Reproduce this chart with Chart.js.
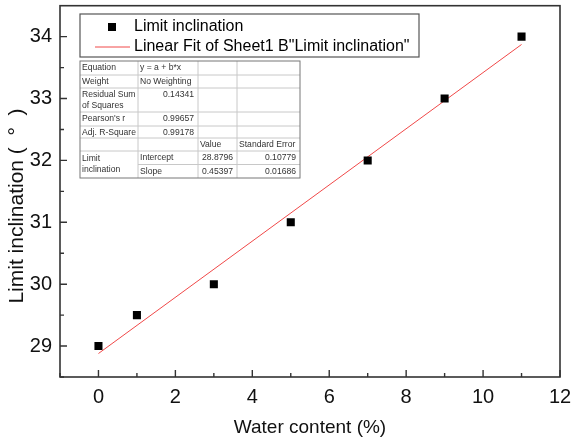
<!DOCTYPE html>
<html>
<head>
<meta charset="utf-8">
<script src="https://cdn.jsdelivr.net/npm/chart.js@4"></script>
<style>
  html, body { margin: 0; padding: 0; background: #fff; }
  #wrap { width: 576px; height: 446px; }
</style>
</head>
<body>
<div id="wrap"><canvas id="chart" width="576" height="446"></canvas></div>
<script>
// data
const waterContent = [0, 1, 3, 5, 7, 9, 11];
const limitInclination = [29, 29.5, 30, 31, 32, 33, 34];
const fitIntercept = 28.8796;
const fitSlope = 0.45397;
const fitRange = [0, 11];
const xTicks = [0, 2, 4, 6, 8, 10, 12];
const yTicks = [29, 30, 31, 32, 33, 34];
const xMinor = [-1, 1, 3, 5, 7, 9, 11];
const yMinor = [28.5, 29.5, 30.5, 31.5, 32.5, 33.5];

const yTitle = 'Limit inclination (  °  )';
const legendLabels = ['Limit inclination', 'Linear Fit of Sheet1 B"Limit inclination"'];
const tableRows = [
    ['Equation', 'y = a + b*x', '', ''],
    ['Weight', 'No Weighting', '', ''],
    ['Residual Sum\nof Squares', '0.14341', '', ''],
    ["Pearson's r", '0.99657', '', ''],
    ['Adj. R-Square', '0.99178', '', ''],
    ['', '', 'Value', 'Standard Error'],
    ['Limit\ninclination', 'Intercept', '28.8796', '0.10779'],
    ['', 'Slope', '0.45397', '0.01686']
];

const FONT = '"Liberation Sans", Arial, sans-serif';
const AXIS = '#333';
const FIT_RED = '#f04848';

const fitPoints = fitRange.map(x => ({ x: x, y: fitIntercept + fitSlope * x }));

// box frame, inward ticks, y title, legend box and the fit table
const framePlugin = {
    id: 'frame',
    afterDraw(chart) {
        const ctx = chart.ctx;
        const { left, right, top, bottom } = chart.chartArea;
        const xs = chart.scales.x, ys = chart.scales.y;
        ctx.save();
        ctx.strokeStyle = AXIS;
        ctx.lineWidth = 1.6;
        ctx.strokeRect(left, top, right - left, bottom - top);

        ctx.lineWidth = 1.4;
        ctx.beginPath();
        xTicks.forEach(v => {
            const px = xs.getPixelForValue(v);
            ctx.moveTo(px, bottom); ctx.lineTo(px, bottom - 7);
        });
        xMinor.forEach(v => {
            const px = xs.getPixelForValue(v);
            ctx.moveTo(px, bottom); ctx.lineTo(px, bottom - 4);
        });
        yTicks.forEach(v => {
            const py = ys.getPixelForValue(v);
            ctx.moveTo(left, py); ctx.lineTo(left + 7, py);
        });
        yMinor.forEach(v => {
            const py = ys.getPixelForValue(v);
            ctx.moveTo(left, py); ctx.lineTo(left + 4, py);
        });
        ctx.stroke();

        // y axis title, sits a bit below the centre in the original
        ctx.save();
        ctx.translate(17, 206);
        ctx.rotate(-Math.PI / 2);
        ctx.font = '21px ' + FONT;
        ctx.fillStyle = '#111';
        ctx.textAlign = 'center';
        ctx.textBaseline = 'middle';
        ctx.fillText(yTitle, 0, 0);
        ctx.restore();

        // legend
        ctx.lineWidth = 1.2;
        ctx.strokeStyle = '#555';
        ctx.fillStyle = '#fff';
        ctx.fillRect(80, 14, 339, 43);
        ctx.strokeRect(80, 14, 339, 43);
        ctx.fillStyle = '#000';
        ctx.fillRect(108, 23, 8, 8);
        ctx.strokeStyle = FIT_RED;
        ctx.lineWidth = 1;
        ctx.beginPath();
        ctx.moveTo(95, 47); ctx.lineTo(130, 47);
        ctx.stroke();
        ctx.font = '16px ' + FONT;
        ctx.textBaseline = 'middle';
        ctx.fillText(legendLabels[0], 134, 27);
        ctx.fillText(legendLabels[1], 134, 47);

        // fit table
        const colX = [80, 138, 198, 237, 300];
        const rowY = [61, 75, 88, 112, 126, 138, 151, 164.5, 178];
        ctx.fillStyle = '#fff';
        ctx.fillRect(80, 61, 220, 117);
        ctx.strokeStyle = '#c8c8c8';
        ctx.lineWidth = 1;
        ctx.beginPath();
        rowY.slice(1, -1).forEach((y, i) => {
            const startX = (i === 6) ? colX[1] : colX[0];
            ctx.moveTo(startX, y); ctx.lineTo(colX[4], y);
        });
        colX.slice(1, -1).forEach(x => {
            ctx.moveTo(x, rowY[0]); ctx.lineTo(x, rowY[8]);
        });
        ctx.stroke();
        ctx.strokeStyle = '#777';
        ctx.strokeRect(80, 61, 220, 117);

        ctx.font = '8.6px ' + FONT;
        ctx.fillStyle = '#333';
        tableRows.forEach((row, r) => {
            const y0 = rowY[r];
            row.forEach((txt, c) => {
                if (!txt) return;
                const lines = txt.split('\n');
                const isNum = /^[0-9.]+$/.test(txt);
                let ty = y0 + 7;
                if (r === 6 && c === 0) ty = y0 + 8;
                lines.forEach((ln, k) => {
                    if (isNum) {
                        ctx.textAlign = 'right';
                        ctx.fillText(ln, colX[c + 1] - 4, ty + k * 11);
                    } else {
                        ctx.textAlign = 'left';
                        ctx.fillText(ln, colX[c] + 2, ty + k * 11);
                    }
                });
            });
        });
        ctx.restore();
    }
};

const ctx = document.getElementById('chart');
new Chart(ctx, {
    type: 'scatter',
    data: {
        datasets: [{
            label: legendLabels[1],
            type: 'line',
            data: fitPoints,
            borderColor: FIT_RED,
            borderWidth: 1,
            pointRadius: 0,
            fill: false,
            order: 2
        }, {
            label: legendLabels[0],
            data: waterContent.map((x, i) => ({ x: x, y: limitInclination[i] })),
            pointStyle: 'rect',
            pointRadius: 5.7,
            pointHoverRadius: 5.7,
            backgroundColor: '#000',
            borderColor: '#000',
            borderWidth: 0,
            order: 1
        }]
    },
    options: {
        responsive: false,
        animation: false,
        layout: { padding: { top: 3, right: 16, left: 0, bottom: 0 } },
        plugins: {
            legend: { display: false },
            tooltip: { enabled: false }
        },
        scales: {
            x: {
                type: 'linear',
                min: -1,
                max: 12,
                afterBuildTicks: s => { s.ticks = xTicks.map(v => ({ value: v })); },
                afterFit: s => { s.height = 69; s.paddingLeft = 0; s.paddingRight = 0; },
                grid: { display: false, drawTicks: false },
                border: { display: false },
                ticks: { color: '#111', padding: 8, font: { family: FONT, size: 20 } },
                title: {
                    display: true,
                    text: 'Water content (%)',
                    color: '#111',
                    font: { family: FONT, size: 19 },
                    padding: { top: 0, bottom: 7 }
                }
            },
            y: {
                type: 'linear',
                min: 28.5,
                max: 34.5,
                afterBuildTicks: s => { s.ticks = yTicks.map(v => ({ value: v })); },
                afterFit: s => { s.width = 60; s.paddingTop = 0; s.paddingBottom = 0; },
                grid: { display: false, drawTicks: false },
                border: { display: false },
                ticks: { color: '#111', padding: 8, font: { family: FONT, size: 20 } }
            }
        }
    },
    plugins: [framePlugin]
});
</script>
</body>
</html>
